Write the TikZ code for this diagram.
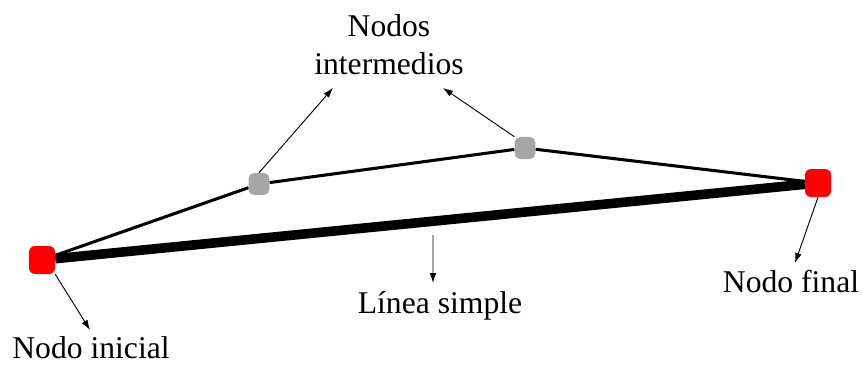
\documentclass[tikz,border=0pt]{standalone}
\usepackage{fontspec}
\setmainfont{Liberation Serif}
\usetikzlibrary{arrows.meta,backgrounds}
\tikzset{
	nodorojo/.style={draw=none,fill=red,rounded corners=0.18cm,minimum width=0.78cm,minimum height=0.84cm,inner sep=0pt},
	nodogris/.style={draw=none,fill=black!35,rounded corners=0.16cm,minimum width=0.62cm,minimum height=0.66cm,inner sep=0pt},
	etiqueta/.style={inner sep=0pt,font=\fontsize{27}{32.3}\selectfont},
	flecha/.style={-{Latex[length=0.3cm,width=0.2cm]},line width=0.8pt}
}
\begin{document}
\begin{tikzpicture}[x=0.03cm,y=-0.03cm]
	\useasboundingbox (0,0) rectangle (863,366);
	\node[nodorojo] (ini) at (42,260) {};
	\node[nodorojo] (fin) at (818,183) {};
	\node[nodogris] (g1) at (259,184) {};
	\node[nodogris] (g2) at (525,148) {};
	\begin{scope}[on background layer]
		\draw[line width=8.2pt] (ini) -- (fin) coordinate[pos=0.504] (mid);
		\draw[line width=2.6pt,line join=round] (ini) -- (g1) -- (g2) -- (fin);
	\end{scope}
	\node[etiqueta,anchor=base] (lini) at (91,358) {Nodo inicial};
	\node[etiqueta,anchor=base] (lfin) at (791,292) {Nodo final};
	\node[etiqueta,anchor=base] (llin) at (440,313) {Línea simple};
	\node[etiqueta,anchor=north,align=center] (lint) at (389,14) {Nodos\\intermedios};
	\coordinate (tini) at (90,330);
	\coordinate (tfin) at (795,263);
	\coordinate (tlin) at (433,283);
	\coordinate (tg1) at (333,88);
	\coordinate (tg2) at (443,88);
	\draw[flecha] (ini.south east) -- (tini);
	\draw[flecha] (fin.south) -- (tfin);
	\draw[flecha,shorten <=0.42cm] (mid) -- (tlin);
	\draw[flecha] (g1.north) -- (tg1);
	\draw[flecha] (g2.north west) -- (tg2);
\end{tikzpicture}
\end{document}
